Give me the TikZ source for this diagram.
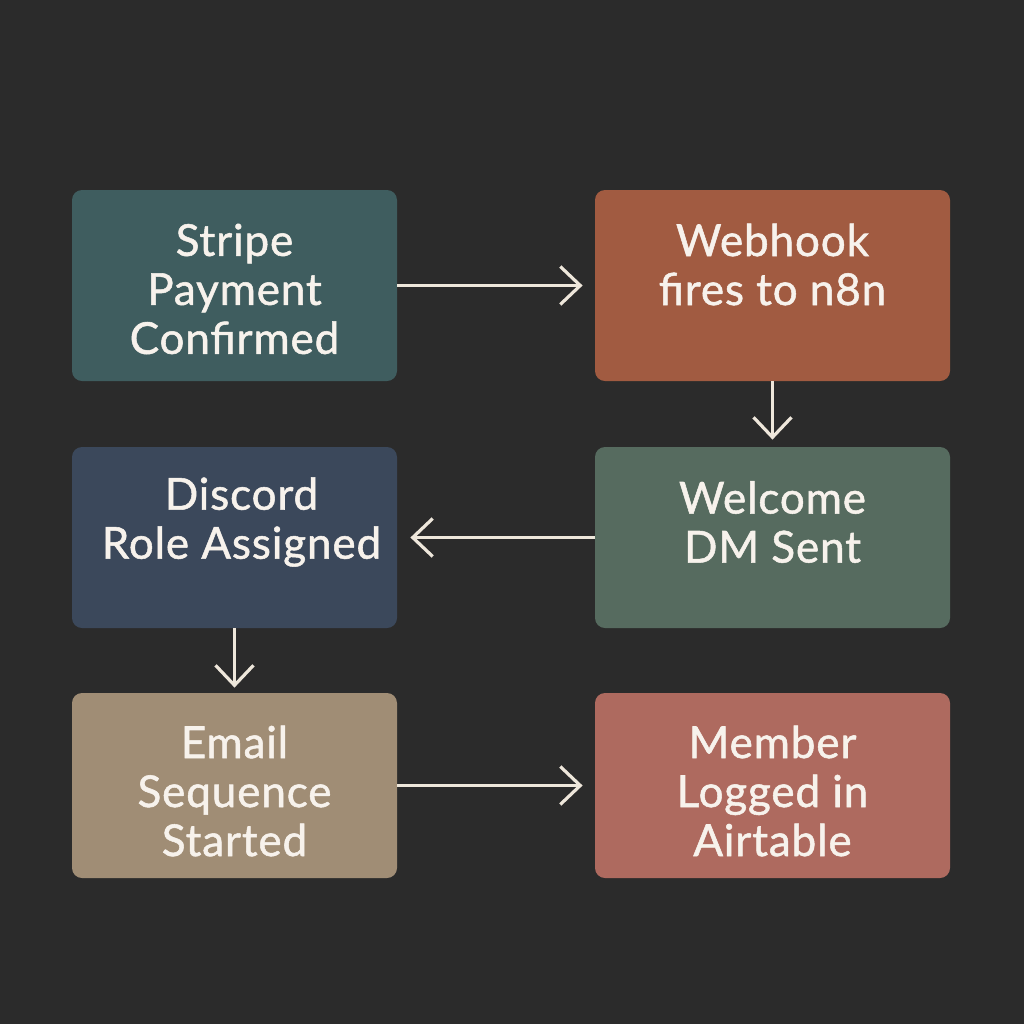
\documentclass[tikz,border=0pt]{standalone}
\usepackage{fontspec}
\setmainfont{Lato}
\newfontfamily\boxfont{Lato}[FakeBold=1.2, LetterSpace=2]
\usetikzlibrary{arrows.meta}

\definecolor{bgdark}{HTML}{2B2B2B}
\definecolor{cteal}{HTML}{3F5D5F}
\definecolor{crust}{HTML}{A15B41}
\definecolor{cnavy}{HTML}{3B485B}
\definecolor{csage}{HTML}{566B5F}
\definecolor{csand}{HTML}{A08D75}
\definecolor{crose}{HTML}{AE6A5F}
\definecolor{cline}{HTML}{EEE7DB}
\definecolor{ctext}{HTML}{F7F2EC}

\begin{document}
\begin{tikzpicture}[x=0.5pt,y=-0.5pt,
    stepbox/.style={rounded corners=5pt, inner sep=0pt},
    steptext/.style={inner sep=0pt, align=center, text=ctext,
        font=\boxfont\fontsize{22}{24.5}\selectfont},
    flow/.style={cline, line width=1.5pt,
        -{Straight Barb[length=10pt, width=19pt, line width=1.6pt]}}]
    % 背景
    \fill[bgdark] (0,0) rectangle (1024,1024);
    \useasboundingbox (0,0) rectangle (1024,1024);

    % 步骤框
    \node[stepbox, fill=cteal, minimum width=162.5pt, minimum height=95.5pt] (stripe) at (234.5,285.5) {};
    \node[stepbox, fill=crust, minimum width=177.5pt, minimum height=95.5pt] (webhook) at (772.5,285.5) {};
    \node[stepbox, fill=cnavy, minimum width=162.5pt, minimum height=90.5pt] (discord) at (234.5,537.5) {};
    \node[stepbox, fill=csage, minimum width=177.5pt, minimum height=90.5pt] (welcome) at (772.5,537.5) {};
    \node[stepbox, fill=csand, minimum width=162.5pt, minimum height=92.5pt] (email) at (234.5,785.5) {};
    \node[stepbox, fill=crose, minimum width=177.5pt, minimum height=92.5pt] (member) at (772.5,785.5) {};

    % 框内文字
    \node[steptext] (stripe-t) at ([yshift=-1.75pt]stripe.center) {Stripe\\Payment\\Confirmed};
    \node[steptext] (webhook-t) at ([yshift=10.5pt]webhook.center) {Webhook\\fires to n8n};
    \node[steptext] (discord-t) at ([xshift=3.5pt,yshift=7.75pt]discord.center) {Discord\\Role Assigned};
    \node[steptext] (welcome-t) at ([yshift=7.75pt]welcome.center) {Welcome\\DM Sent};
    \node[steptext] (email-t) at ([yshift=-2.75pt]email.center) {Email\\Sequence\\Started};
    \node[steptext] (member-t) at ([yshift=-2.75pt]member.center) {Member\\Logged in\\Airtable};

    % 连接箭头
    \draw[flow, shorten >=6pt] (stripe) -- (webhook);
    \draw[flow, shorten >=3.5pt] (webhook) -- (welcome);
    \draw[flow, shorten >=6.5pt] (welcome) -- (discord);
    \draw[flow, shorten >=2.5pt] (discord) -- (email);
    \draw[flow, shorten >=6pt] (email) -- (member);
\end{tikzpicture}
\end{document}
